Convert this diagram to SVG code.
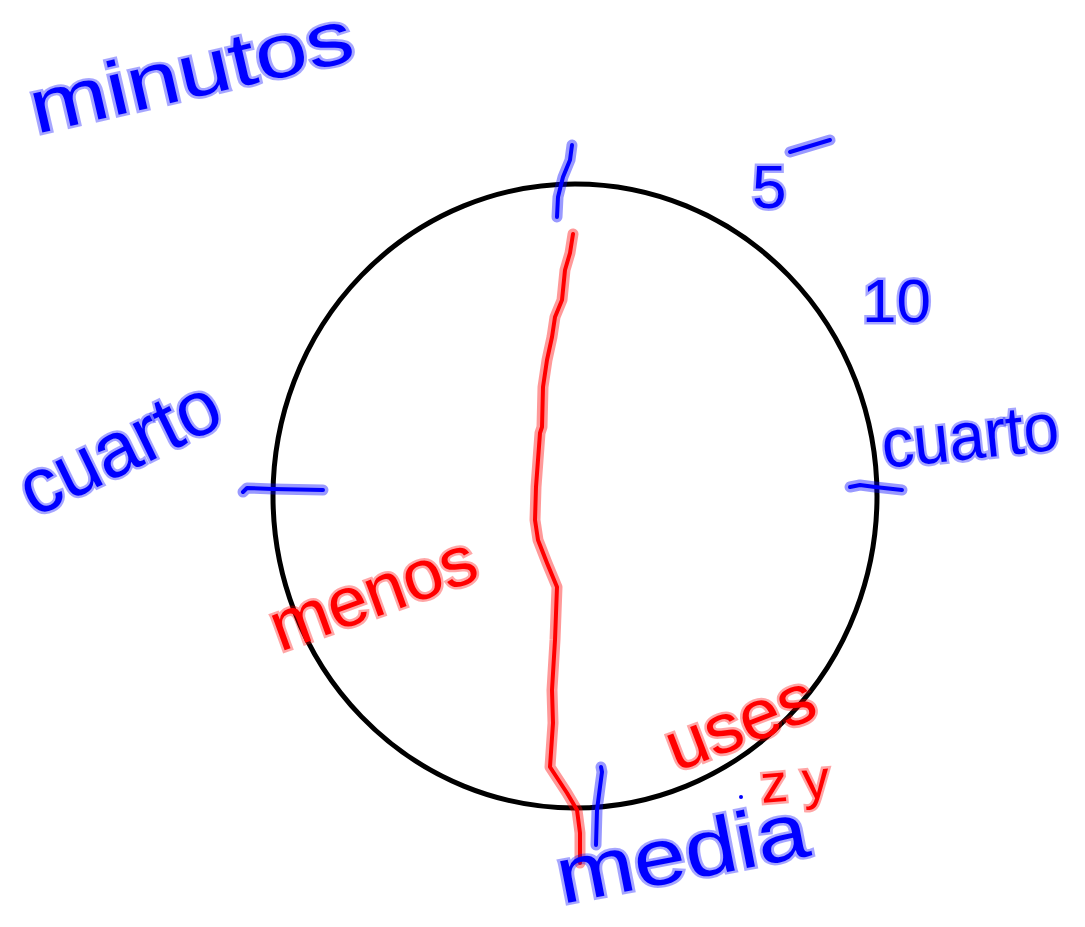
<svg xmlns="http://www.w3.org/2000/svg" width="1085" height="927" viewBox="0 0 1085 927">
<style>
.blue{fill:none;stroke:#0000ff;stroke-width:4;stroke-linecap:round;stroke-linejoin:round}
.bh{fill:none;stroke:#0000ff;stroke-opacity:0.4;stroke-width:11;stroke-linecap:round;stroke-linejoin:round}
.red{fill:none;stroke:#ff0000;stroke-width:4;stroke-linecap:round;stroke-linejoin:round}
.rh{fill:none;stroke:#ff0000;stroke-opacity:0.4;stroke-width:11;stroke-linecap:round;stroke-linejoin:round}
.tb{font-family:"Liberation Sans","DejaVu Sans",sans-serif;fill:#0000ff;stroke:#0000ff;stroke-opacity:0.35;stroke-width:5;paint-order:stroke}
.tr{font-family:"Liberation Sans","DejaVu Sans",sans-serif;fill:#ff0000;stroke:#ff0000;stroke-opacity:0.35;stroke-width:5;paint-order:stroke}
</style>
<rect width="1085" height="927" fill="#ffffff"/>
<g id="circle">
<ellipse cx="575" cy="496" rx="302" ry="312" fill="none" stroke="#000000" stroke-width="5"/>
</g>
<g id="ticks">
<path class="bh" d="M572,145 L570,160 L563,177 L558,197 L557,217"/>
<path class="blue" d="M572,145 L570,160 L563,177 L558,197 L557,217"/>
<path class="bh" d="M243,492 L247,488 L273,489 L323,490"/>
<path class="blue" d="M243,492 L247,488 L273,489 L323,490"/>
<path class="bh" d="M850,487 L860,485 L875,487 L902,490"/>
<path class="blue" d="M850,487 L860,485 L875,487 L902,490"/>
<path class="bh" d="M601,767 L602,772 L600,787 L597,810 L596,845"/>
<path class="blue" d="M601,767 L602,772 L600,787 L597,810 L596,845"/>
<path class="bh" d="M790,152 L830,140"/>
<path class="blue" d="M790,152 L830,140"/>
<circle cx="741" cy="797" r="2" fill="#0000ff"/>
</g>
<g id="red-line">
<path class="rh" d="M573,234 L570,253 L565,270 L562,300 L555,317 L552,337 L547,360 L543,387 L542,427 L540,433 L538,460 L536,487 L535,520 L538,540 L547,563 L557,587 L555,640 L552,690 L553,723 L550,767 L567,793 L577,810 L580,833 L580,863"/>
<path class="red" d="M573,234 L570,253 L565,270 L562,300 L555,317 L552,337 L547,360 L543,387 L542,427 L540,433 L538,460 L536,487 L535,520 L538,540 L547,563 L557,587 L555,640 L552,690 L553,723 L550,767 L567,793 L577,810 L580,833 L580,863"/>
</g>
<g id="label-minutos">
<text class="tb" transform="translate(36,134) rotate(-13)" font-size="76" textLength="330" lengthAdjust="spacingAndGlyphs">minutos</text>
</g>
<g id="label-5">
<text class="tb" x="752" y="208" font-size="62">5</text>
</g>
<g id="label-10">
<text class="tb" x="862" y="322" font-size="62">10</text>
</g>
<g id="label-cuarto-left">
<text class="tb" transform="translate(34,518) rotate(-26)" font-size="78" textLength="215" lengthAdjust="spacingAndGlyphs">cuarto</text>
</g>
<g id="label-cuarto-right">
<text class="tb" transform="translate(884,468) rotate(-6)" font-size="68" textLength="178" lengthAdjust="spacingAndGlyphs">cuarto</text>
</g>
<g id="label-menos">
<text class="tr" transform="translate(280,652) rotate(-20)" font-size="70" textLength="215" lengthAdjust="spacingAndGlyphs">menos</text>
</g>
<g id="label-uses">
<text class="tr" transform="translate(676,772) rotate(-21)" font-size="70" textLength="155" lengthAdjust="spacingAndGlyphs">uses</text>
</g>
<g id="label-zy">
<text class="tr" transform="translate(762,803) rotate(-5)" font-size="54">z y</text>
</g>
<g id="label-media">
<text class="tb" transform="translate(562,904) rotate(-11)" font-size="80" textLength="255" lengthAdjust="spacingAndGlyphs">media</text>
</g>
</svg>
